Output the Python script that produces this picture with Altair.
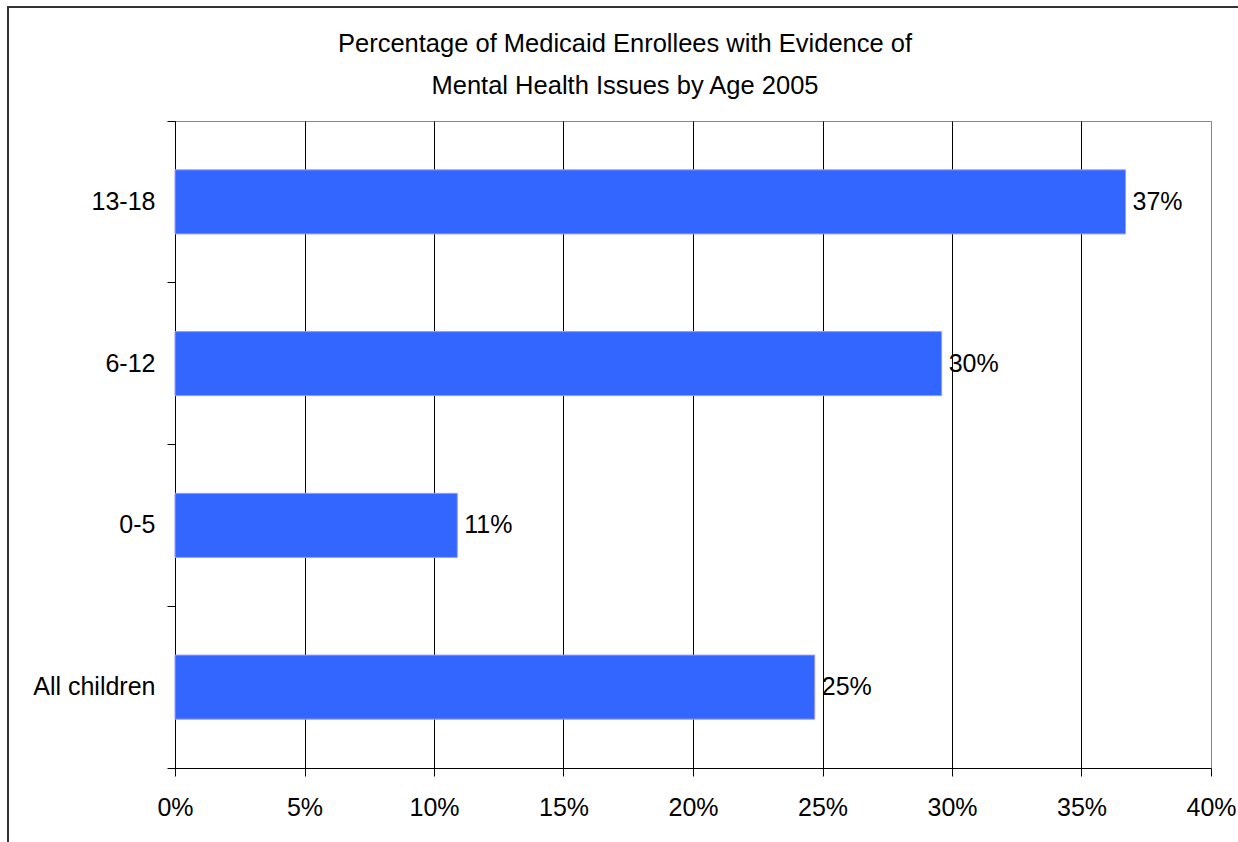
import altair as alt
import pandas as pd

# Share of Medicaid enrollees with evidence of mental health issues, 2005
ages = ["13-18", "6-12", "0-5", "All children"]
shares = [0.367, 0.296, 0.109, 0.247]

title_lines = [
    "Percentage of Medicaid Enrollees with Evidence of",
    "Mental Health Issues by Age 2005",
]
x_ticks = [0.0, 0.05, 0.10, 0.15, 0.20, 0.25, 0.30, 0.35, 0.40]

FONT = "Liberation Sans"
FS = 25
W, H = 1036, 647
LEFT, TOP, RIGHT, BOTTOM = 175, 121, 27, 74

df = pd.DataFrame({"age": ages, "share": shares})
one = pd.DataFrame({"k": [0]})

y_enc = alt.Y(
    "age:N",
    sort=ages,
    title=None,
    scale=alt.Scale(paddingInner=0, paddingOuter=0),
    axis=alt.Axis(
        bandPosition=1,
        tickExtra=True,
        tickSize=8,
        tickColor="black",
        domainColor="black",
        grid=False,
        labelFont=FONT,
        labelFontSize=FS,
        labelColor="black",
        labelPadding=12,
    ),
)

x_enc = alt.X(
    "share:Q",
    title=None,
    scale=alt.Scale(domain=[0, 0.4], nice=False, zero=True),
    axis=alt.Axis(
        values=x_ticks,
        format=".0%",
        tickSize=8,
        tickColor="black",
        domainColor="black",
        grid=True,
        gridColor={
            "condition": {"test": "datum.value >= 0.399", "value": "#888888"},
            "value": "black",
        },
        gridWidth=1,
        labelFont=FONT,
        labelFontSize=FS,
        labelColor="black",
        labelPadding=19,
        labelFlush=False,
    ),
)

bars = alt.Chart(df).mark_bar(
    height={"band": 0.396},
    color="#3366FF",
    stroke="#9999FF",
    strokeWidth=1,
).encode(x=x_enc, y=y_enc)

bar_labels = alt.Chart(df).mark_text(
    align="left",
    baseline="middle",
    dx=7,
    font=FONT,
    fontSize=FS,
    color="black",
).encode(
    x="share:Q",
    y=alt.Y("age:N", sort=ages),
    text=alt.Text("share:Q", format=".0%"),
)

heading = alt.Chart(one).mark_text(
    text=title_lines,
    align="center",
    baseline="alphabetic",
    lineHeight=42,
    font=FONT,
    fontSize=25.5,
    color="black",
).encode(x=alt.value(625 - LEFT), y=alt.value(52 - TOP))

frame = alt.Chart(one).mark_rect(
    filled=False,
    stroke="#333333",
    strokeWidth=2,
).encode(
    x=alt.value(8 - LEFT),
    x2=alt.value(W + RIGHT + 40),
    y=alt.value(7 - TOP),
    y2=alt.value(H + BOTTOM + 40),
)

chart = (
    alt.layer(frame, bars, bar_labels, heading)
    .properties(
        width=W,
        height=H,
        padding={"left": LEFT, "top": TOP, "right": RIGHT, "bottom": BOTTOM},
        autosize="none",
        background="white",
    )
    .configure_view(stroke="#888888", strokeWidth=1)
)

chart.save("out.html", embed_options={"renderer": "svg", "actions": False})
